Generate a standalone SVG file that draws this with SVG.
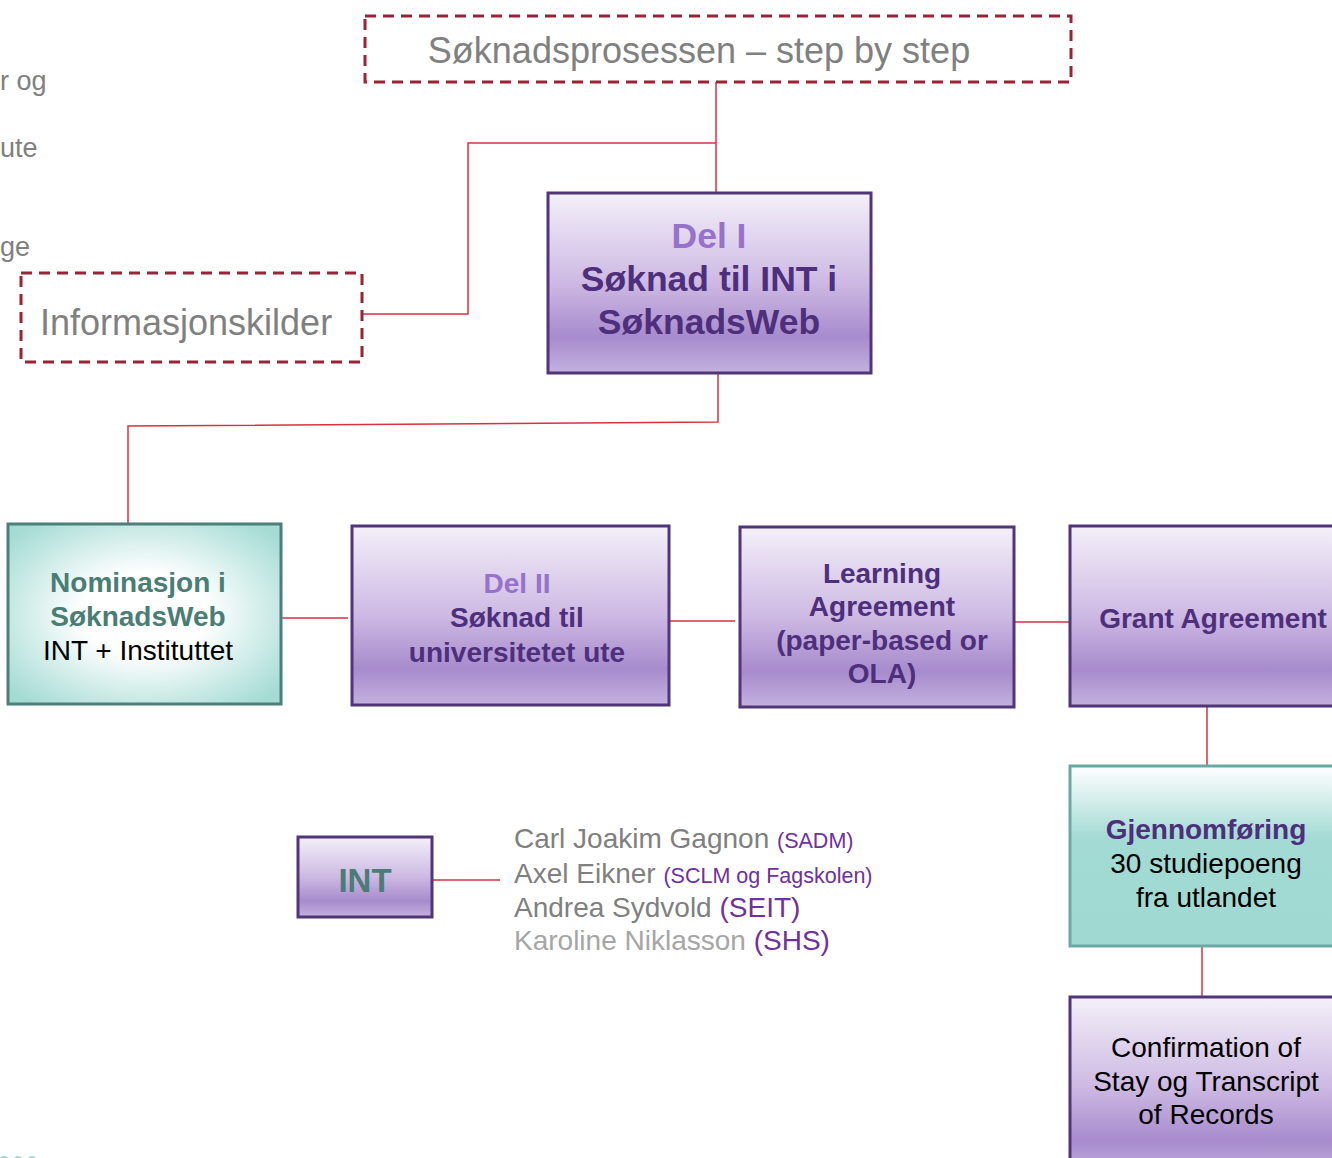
<svg xmlns="http://www.w3.org/2000/svg" width="1332" height="1158" viewBox="0 0 1332 1158">
<defs>
<linearGradient id="purp" x1="0" y1="0" x2="0" y2="1">
<stop offset="0" stop-color="#f4f0f9"/>
<stop offset="0.5" stop-color="#cdb9e3"/>
<stop offset="0.8" stop-color="#a78bcd"/>
<stop offset="1" stop-color="#c3b1de"/>
</linearGradient>
<radialGradient id="tealR" cx="0.5" cy="0.5" r="0.65">
<stop offset="0" stop-color="#ffffff"/>
<stop offset="0.35" stop-color="#ffffff"/>
<stop offset="1" stop-color="#a4dbd4"/>
</radialGradient>
<linearGradient id="tealL" x1="0" y1="0" x2="0" y2="1">
<stop offset="0" stop-color="#ffffff"/>
<stop offset="0.4" stop-color="#a3dbd4"/>
<stop offset="1" stop-color="#9fd9d2"/>
</linearGradient>
</defs>
<style>
.pbox{fill:url(#purp);stroke:#513579;stroke-width:3}
.dash{fill:#ffffff;stroke:#9b2333;stroke-width:3;stroke-dasharray:11 7}
.con{fill:none;stroke:#d7323f;stroke-width:1.5}
text{font-family:"Liberation Sans",Arial,sans-serif}
.c{text-anchor:middle}
.b{font-weight:bold}
.pd{fill:#4e2f7c}
.pl{fill:#9672cb}
.tl{fill:#4a7d76}
.bk{fill:#000000}
.gr{fill:#808080}
.lg{fill:#a6a6a6}
.vi{fill:#7030a0}
</style>
<g id="leftover" class="gr" font-size="27">
<text x="0" y="90">r og</text>
<text x="0" y="157">ute</text>
<text x="0" y="256">ge</text>
</g>
<g id="connectors">
<path class="con" d="M716 82 V192"/>
<path class="con" d="M716 143 H468 V314 H362"/>
<path class="con" d="M718 373 V422 L128 426 V523"/>
<path class="con" d="M282 618 H348"/>
<path class="con" d="M669 621 H735"/>
<path class="con" d="M1014 622 H1070"/>
<path class="con" d="M1207 707 V766"/>
<path class="con" d="M1202 942 V1000"/>
<path class="con" d="M433 880 H500"/>
</g>
<g id="title">
<rect class="dash" x="365" y="16" width="706" height="66"/>
<text class="gr c" x="699" y="63" font-size="36">Søknadsprosessen – step by step</text>
</g>
<g id="info">
<rect class="dash" x="21" y="273" width="341" height="89"/>
<text class="gr" x="40" y="335" font-size="36">Informasjonskilder</text>
</g>
<g id="del1">
<rect class="pbox" x="548" y="193" width="323" height="180"/>
<text class="c b pl" x="709" y="248" font-size="35.5">Del I</text>
<text class="c b pd" x="709" y="291" font-size="35.5">Søknad til INT i</text>
<text class="c b pd" x="709" y="334" font-size="35.5">SøknadsWeb</text>
</g>
<g id="nominasjon">
<rect x="8" y="524" width="273" height="180" fill="url(#tealR)" stroke="#4e7e78" stroke-width="3"/>
<text class="c b tl" x="138" y="592" font-size="28">Nominasjon i</text>
<text class="c b tl" x="138" y="626" font-size="28">SøknadsWeb</text>
<text class="c bk" x="138" y="660" font-size="28">INT + Instituttet</text>
</g>
<g id="del2">
<rect class="pbox" x="352" y="526" width="317" height="179"/>
<text class="c b pl" x="517" y="593" font-size="28">Del II</text>
<text class="c b pd" x="517" y="627" font-size="28">Søknad til</text>
<text class="c b pd" x="517" y="662" font-size="28">universitetet ute</text>
</g>
<g id="learning">
<rect class="pbox" x="740" y="527" width="274" height="180"/>
<text class="c b pd" x="882" y="583" font-size="28">Learning</text>
<text class="c b pd" x="882" y="616" font-size="28">Agreement</text>
<text class="c b pd" x="882" y="650" font-size="28">(paper-based or</text>
<text class="c b pd" x="882" y="683" font-size="28">OLA)</text>
</g>
<g id="grant">
<rect class="pbox" x="1070" y="526" width="275" height="180"/>
<text class="c b pd" x="1213" y="628" font-size="28">Grant Agreement</text>
</g>
<g id="gjennomforing">
<rect x="1070" y="766" width="275" height="180" fill="url(#tealL)" stroke="#6aa9a2" stroke-width="3"/>
<text class="c b pd" x="1206" y="839" font-size="28">Gjennomføring</text>
<text class="c bk" x="1206" y="873" font-size="28">30 studiepoeng</text>
<text class="c bk" x="1206" y="907" font-size="28">fra utlandet</text>
</g>
<g id="confirmation">
<rect class="pbox" x="1070" y="997" width="275" height="180"/>
<text class="c bk" x="1206" y="1057" font-size="28">Confirmation of</text>
<text class="c bk" x="1206" y="1091" font-size="28">Stay og Transcript</text>
<text class="c bk" x="1206" y="1124" font-size="28">of Records</text>
</g>
<g id="int">
<rect class="pbox" x="298" y="837" width="134" height="80"/>
<text class="c b tl" x="365" y="892" font-size="33">INT</text>
</g>
<g id="names" font-size="28">
<text x="514" y="848"><tspan class="gr">Carl Joakim Gagnon </tspan><tspan class="vi" font-size="21.5">(SADM)</tspan></text>
<text x="514" y="883"><tspan class="gr">Axel Eikner </tspan><tspan class="vi" font-size="21.5">(SCLM og Fagskolen)</tspan></text>
<text x="514" y="917"><tspan class="gr">Andrea Sydvold </tspan><tspan class="vi">(SEIT)</tspan></text>
<text x="514" y="950"><tspan class="lg">Karoline Niklasson </tspan><tspan class="vi">(SHS)</tspan></text>
</g>
<g id="dots" fill="#a3dbd4">
<circle cx="4" cy="1161" r="5"/>
<circle cx="18" cy="1161" r="5"/>
<circle cx="32" cy="1161" r="5"/>
</g>
</svg>
